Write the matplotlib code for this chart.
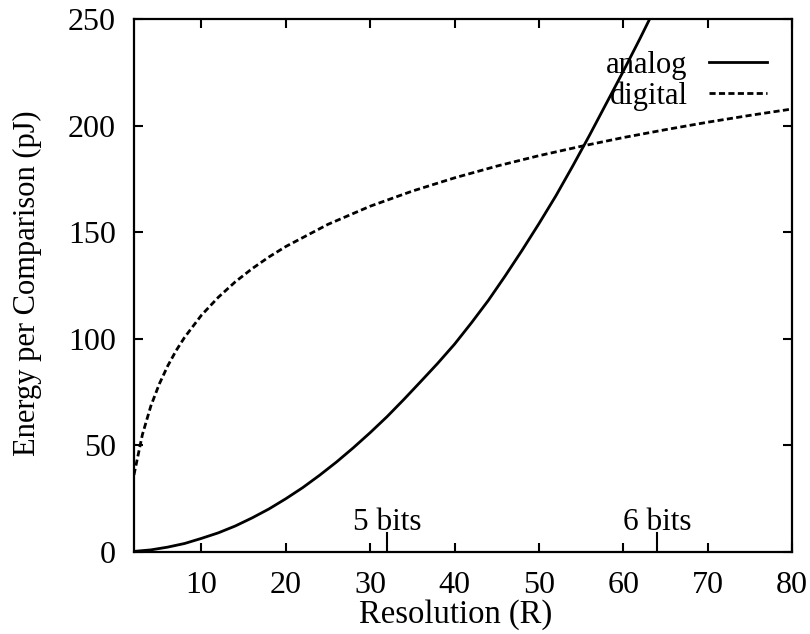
import matplotlib
matplotlib.use("Agg")
import matplotlib.pyplot as plt  # noqa: E402

# Energy per comparison (pJ) vs. resolution R
res_analog = [2, 4, 6, 8, 10, 12, 14, 16, 18, 20, 22, 24, 26, 28, 30, 32, 34,
              36, 38, 40, 42, 44, 46, 48, 50, 52, 54, 56, 58, 60, 62, 64]
e_analog = [0.3, 1.0, 2.3, 4.0, 6.4, 9.0, 12.2, 16.0, 20.2, 25.0, 30.2, 36.0,
            42.2, 48.9, 56.0, 63.5, 71.6, 80.0, 88.5, 97.5, 107.5, 118.0,
            129.5, 141.5, 154.0, 167.0, 181.0, 195.5, 210.5, 225.5, 241.0, 257.0]

res_digital = [2, 3, 4, 5, 6, 7, 8, 10, 12, 14, 16, 18, 20, 25, 30, 35, 40,
               45, 50, 55, 60, 65, 70, 75, 80]
e_digital = [36.2, 55.1, 68.5, 78.8, 87.3, 94.5, 100.7, 111.1, 119.5, 126.7,
             132.9, 138.4, 143.3, 153.7, 162.2, 169.3, 175.5, 181.0, 185.9,
             190.3, 194.4, 198.1, 201.6, 204.8, 207.8]

bits = [5, 6]
bit_res = [2 ** b for b in bits]
bit_labels = [f"{b} bits" for b in bits]

x_ticks = [10, 20, 30, 40, 50, 60, 70, 80]
y_ticks = [0, 50, 100, 150, 200, 250]

plt.rcParams["font.family"] = ["Liberation Serif", "DejaVu Serif"]

fig = plt.figure(figsize=(8.10, 6.34), dpi=100)
ax = fig.add_axes([0.1654, 0.1293, 0.8124, 0.8407])

ax.plot(res_analog, e_analog, color="black", lw=2.0, label="analog")
ax.plot(res_digital, e_digital, color="black", lw=2.0, dashes=(2.2, 1.2),
        label="digital")

ax.set_xlim(2, 80)
ax.set_ylim(0, 250)
ax.set_xticks(x_ticks)
ax.set_yticks(y_ticks)
ax.tick_params(direction="in", length=6.5, width=1.5, top=True, right=True,
               labelsize=23)
ax.tick_params(axis="y", pad=13)
ax.tick_params(axis="x", pad=14)
for sp in ax.spines.values():
    sp.set_linewidth(1.6)

# longer ticks marking 5- and 6-bit resolutions
for r, lab in zip(bit_res, bit_labels):
    ax.axvline(r, ymin=0, ymax=0.036, color="black", lw=1.5)
    ax.text(r, 10.5, lab, ha="center", va="baseline", fontsize=22.5)

ax.set_xlabel("Resolution (R)", fontsize=23.5)
ax.xaxis.set_label_coords(0.489, -0.088)
ax.set_ylabel("Energy per Comparison (pJ)", fontsize=22)
ax.yaxis.set_label_coords(-0.14, 0.505)

ax.legend(loc="upper right", bbox_to_anchor=(0.962, 0.94), frameon=False,
          markerfirst=False, handlelength=1.9, handletextpad=0.7,
          labelspacing=0.05, borderpad=0, borderaxespad=0, fontsize=22)

fig.savefig("out.png", dpi=100)
